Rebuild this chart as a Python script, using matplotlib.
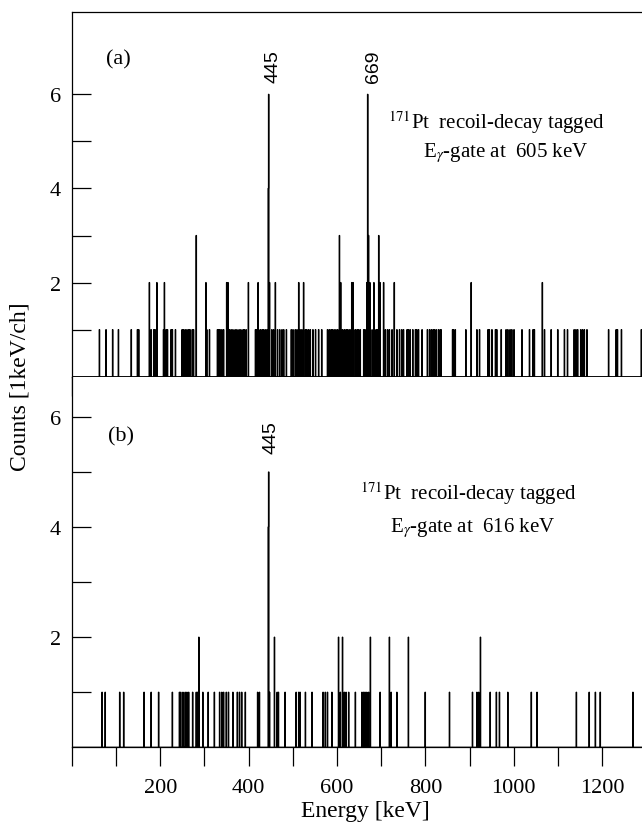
import numpy as np
import matplotlib.pyplot as plt

plt.rcParams['font.family'] = ['Liberation Serif', 'DejaVu Serif']
plt.rcParams['mathtext.fontset'] = 'stix'

# panel (a): 605 keV gate, channel energies (keV) by number of counts
a_one = [62, 77, 92, 105, 134, 148, 151, 179, 185, 188, 207, 213, 216, 224, 227, 234,
         249, 252, 256, 260, 264, 267, 272, 275, 305, 311, 329, 332, 335, 339, 343, 356,
         360, 364, 369, 373, 378, 382, 387, 390, 394, 415, 418, 422, 426, 430, 433, 437,
         441, 452, 456, 465, 470, 475, 479, 485, 496, 500, 505, 509, 516, 520, 528, 531,
         535, 539, 545, 551, 558, 565, 578, 582, 586, 589, 593, 597, 601, 612, 616, 620,
         623, 627, 631, 637, 641, 645, 648, 652, 660, 663, 676, 681, 684, 688, 691, 709,
         714, 718, 724, 735, 741, 746, 750, 758, 761, 765, 771, 777, 780, 784, 792, 804,
         809, 813, 817, 820, 824, 829, 833, 835, 861, 863, 867, 891, 916, 922, 941, 944,
         950, 958, 961, 971, 982, 986, 991, 995, 1000, 1018, 1035, 1043, 1046, 1069, 1084,
         1099, 1114, 1121, 1136, 1140, 1144, 1151, 1155, 1159, 1165, 1214, 1231, 1234,
         1243, 1288]
a_two = [175, 192, 209, 303, 350, 353, 399, 421, 447, 460, 513, 524, 608, 633, 636, 667,
         674, 683, 697, 705, 729, 903, 1064]
a_three = [281, 605, 671, 694]
a_peak_e = [444, 445, 669]
a_peak_n = [4, 6, 6]

# panel (b): 616 keV gate
b_one = [68, 75, 108, 117, 163, 179, 196, 227, 243, 246, 251, 256, 260, 264, 273, 281,
         284, 296, 308, 322, 334, 339, 343, 349, 354, 364, 374, 379, 384, 392, 420, 424,
         447, 464, 467, 482, 507, 513, 516, 528, 543, 568, 573, 578, 588, 607, 616, 620,
         626, 641, 656, 660, 663, 667, 671, 697, 722, 735, 799, 854, 906, 916, 920, 946,
         960, 967, 986, 1039, 1052, 1141, 1170, 1184, 1195, 1269]
b_two = [287, 458, 603, 612, 675, 718, 761, 924]
b_peak_e = [444, 445]
b_peak_n = [4, 5]

edges = np.arange(0, 1301)


def spectrum(ones, twos, threes, peak_e, peak_n):
    counts = np.zeros(len(edges) - 1)
    counts[ones] = 1
    counts[twos] = 2
    counts[threes] = 3
    counts[peak_e] = peak_n
    return counts


W, H = 642, 828
fig = plt.figure(figsize=(W / 100, H / 100), dpi=100)


def px_axes(left, top, right, bottom):
    return fig.add_axes([left / W, 1 - bottom / H, (right - left) / W, (bottom - top) / H])


ax_a = px_axes(71.8, 12.7, 642, 377.7)
ax_b = px_axes(71.8, 377.7, 642, 748.3)

ax_a.stairs(spectrum(a_one, a_two, a_three, a_peak_e, a_peak_n), edges,
            color='black', lw=0.9)
ax_b.stairs(spectrum(b_one, b_two, [], b_peak_e, b_peak_n), edges,
            color='black', lw=0.9)

ax_a.set_ylim(0, 7.755)
ax_b.set_ylim(0, 6.73)

for ax in (ax_a, ax_b):
    ax.set_xlim(0, 1290)
    ax.spines['right'].set_visible(False)
    for s in ax.spines.values():
        s.set_linewidth(0.9)
    ax.set_xticks(np.arange(200, 1201, 200))
    ax.set_xticks([0] + list(np.arange(100, 1201, 200)), minor=True)
    ax.set_yticks([2, 4, 6])
    ax.set_yticks([1, 3, 5], minor=True)
    ax.tick_params(axis='y', which='both', direction='in', length=13.5, width=0.9,
                   labelsize=16, pad=8)
    ax.tick_params(axis='x', which='both', direction='out', length=14, width=0.9,
                   labelsize=16, pad=8)

ax_a.tick_params(axis='x', labelbottom=False)
ax_b.spines['top'].set_visible(False)

# panel labels
ax_a.text(77, 6.75, '(a)', fontsize=16, va='center')
ax_b.text(82, 5.65, '(b)', fontsize=16, va='center')

# peak energies
ax_a.text(456, 6.6, '445', rotation=90, ha='center', va='center', fontsize=14,
          family='Liberation Sans')
ax_a.text(682, 6.6, '669', rotation=90, ha='center', va='center', fontsize=14,
          family='Liberation Sans')
ax_b.text(450, 5.65, '445', rotation=90, ha='center', va='center', fontsize=14,
          family='Liberation Sans')

ax_a.text(715, 5.28, r'$^{171}$Pt  recoil-decay tagged', fontsize=15, va='baseline')
ax_a.text(794, 4.69, r'E$_{\gamma}$-gate at  605 keV', fontsize=15, va='baseline')
ax_b.text(652, 4.51, r'$^{171}$Pt  recoil-decay tagged', fontsize=15, va='baseline')
ax_b.text(720, 3.93, r'E$_{\gamma}$-gate at  616 keV', fontsize=15, va='baseline')

fig.text(20 / W, 1 - 387 / H, 'Counts [1keV/ch]', rotation=90, ha='center', va='center',
         fontsize=17)
fig.text(365 / W, 1 - 812 / H, 'Energy [keV]', ha='center', va='center', fontsize=17)

fig.savefig('out.png', dpi=100)
